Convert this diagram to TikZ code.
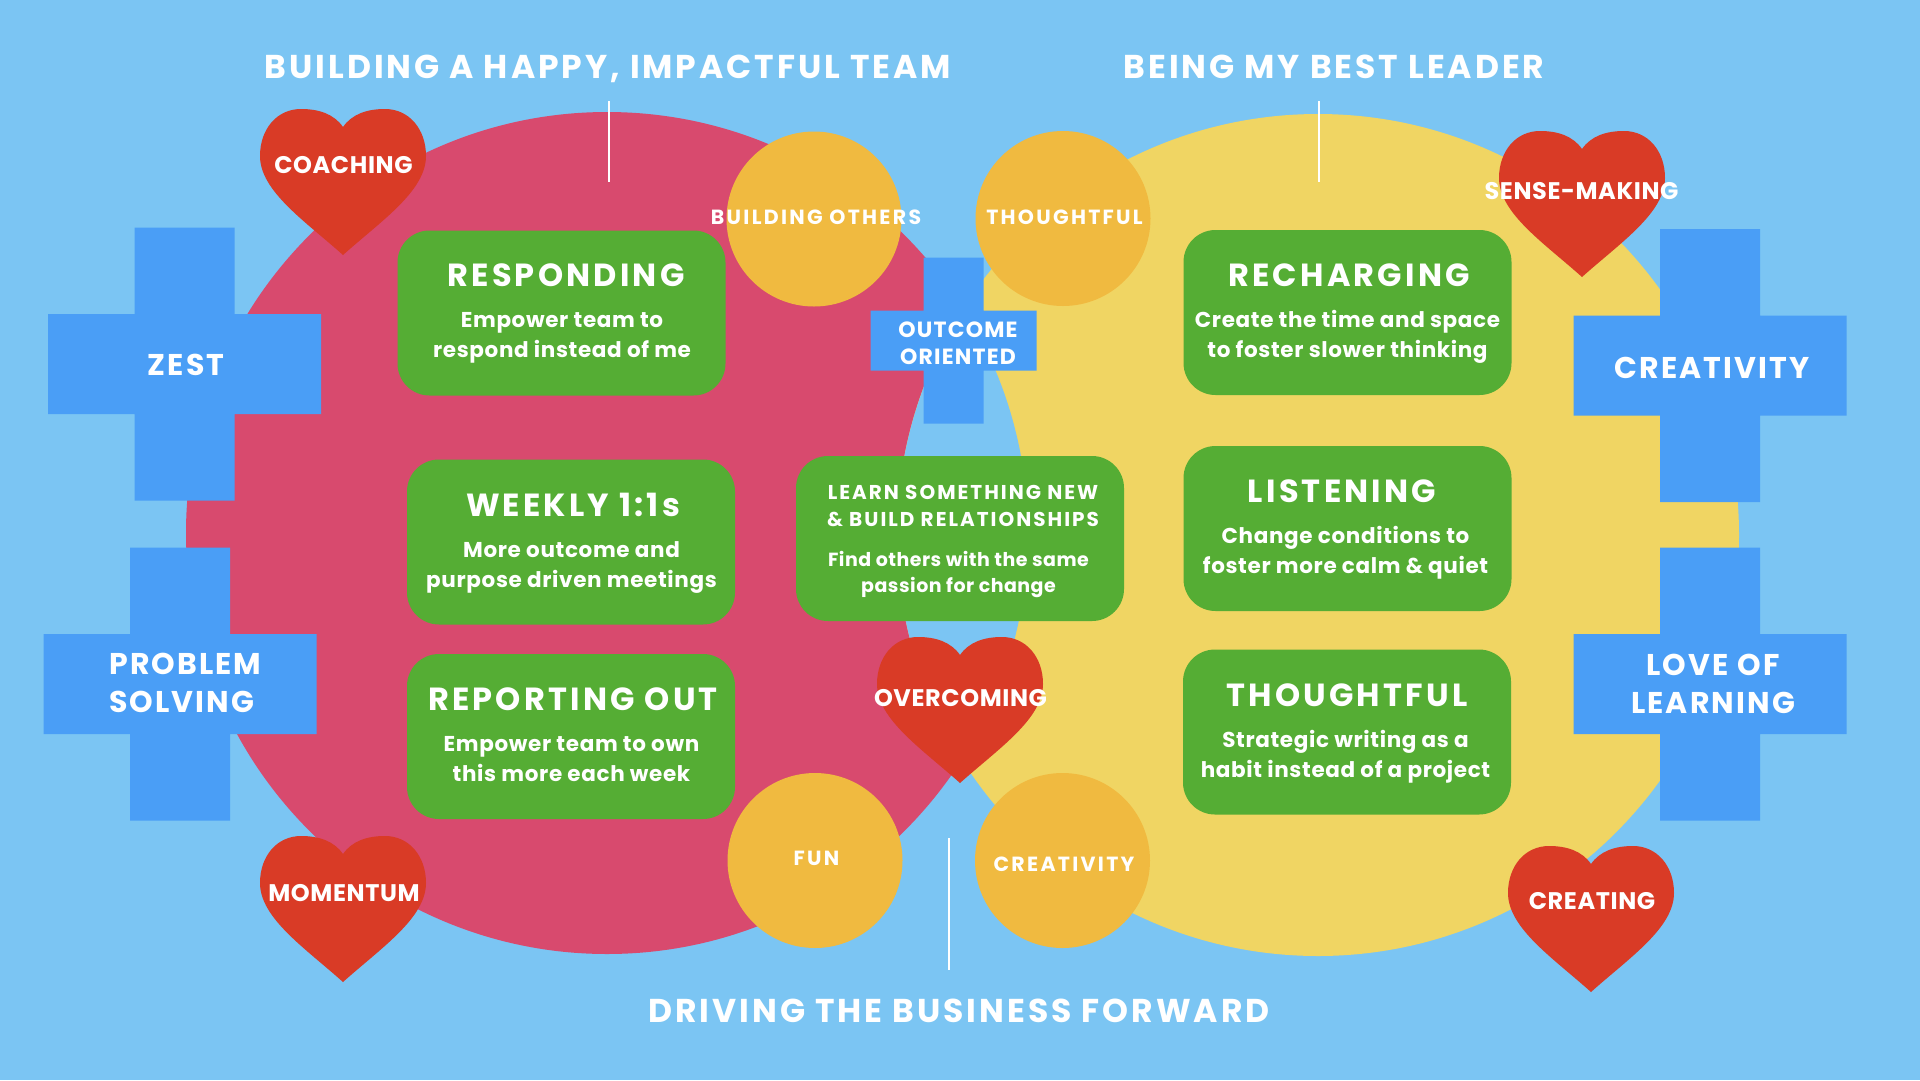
\documentclass[tikz,border=0pt]{standalone}
\usepackage{fontspec}
\setmainfont{Poppins}
\definecolor{bgblue}{RGB}{123,197,243}
\definecolor{pinkc}{RGB}{216,74,110}
\definecolor{yellowc}{RGB}{240,213,99}
\definecolor{orangec}{RGB}{240,186,64}
\definecolor{heartred}{RGB}{217,59,38}
\definecolor{boxgreen}{RGB}{85,173,52}
\definecolor{crossblue}{RGB}{74,158,246}
\newcommand\fhead{\fontsize{33}{36}\selectfont\bfseries\addfontfeatures{LetterSpace=9}}
\newcommand\ftitle{\fontsize{32}{36}\selectfont\bfseries\addfontfeatures{LetterSpace=10}}
\newcommand\fsub{\fontsize{21.5}{26}\selectfont\bfseries\addfontfeatures{LetterSpace=3}}
\newcommand\fcross{\fontsize{30}{34}\selectfont\bfseries\addfontfeatures{LetterSpace=7}}
\newcommand\fheart{\fontsize{24}{28}\selectfont\bfseries\addfontfeatures{LetterSpace=2.5}}
\newcommand\fcirc{\fontsize{20.5}{22}\selectfont\bfseries\addfontfeatures{LetterSpace=11.2}}
\newcommand\flearncap{\fontsize{20}{22}\selectfont\bfseries\addfontfeatures{LetterSpace=10}}
\newcommand\flearn{\fontsize{19}{22}\selectfont\bfseries\addfontfeatures{LetterSpace=2.6}}
\newcommand\fout{\fontsize{22}{26}\selectfont\bfseries\addfontfeatures{LetterSpace=5.5}}
\newcommand\plusshape[4]{\fill[crossblue] ({#1-#3},{#2-#4}) rectangle ({#1+#3},{#2+#4}) ({#1-#4},{#2-#3}) rectangle ({#1+#4},{#2+#3});}
\newcommand\heartshape[2]{\begin{scope}[shift={(#1,#2)}]
\fill[heartred] (0,18) .. controls (9,5) and (24,0) .. (42,0)
 .. controls (66,0) and (83,20) .. (83,47)
 .. controls (83,82) and (38,112) .. (0,146)
 .. controls (-38,112) and (-83,82) .. (-83,47)
 .. controls (-83,20) and (-66,0) .. (-42,0)
 .. controls (-24,0) and (-9,5) .. (0,18) -- cycle;
\end{scope}}
\begin{document}
\begin{tikzpicture}[x=1pt,y=-1pt,
  tx/.style={text=white,inner sep=0pt,anchor=base},
  gbox/.style={fill=boxgreen,rounded corners=32pt,minimum width=328pt,minimum height=165pt,inner sep=0pt},
  orb/.style={fill=orangec},
  wline/.style={draw=white,line width=2pt}]
\useasboundingbox (0,0) rectangle (1920,1080);
\fill[bgblue] (0,0) rectangle (1920,1080);
% big circles
\fill[pinkc] (607,533) circle[radius=421];
\fill[yellowc] (1318,535) circle[radius=421];
\begin{scope}
\clip (607,533) circle[radius=421];
\fill[bgblue] (1318,535) circle[radius=421];
\end{scope}
% lines
\coordinate (la1) at (609,101); \coordinate (la2) at (609,182);
\coordinate (lb1) at (1319,101); \coordinate (lb2) at (1319,182);
\coordinate (lc1) at (949,838); \coordinate (lc2) at (949,970);
\draw[wline] (la1) -- (la2);
\draw[wline] (lb1) -- (lb2);
\draw[wline] (lc1) -- (lc2);
% crosses
\plusshape{184.5}{364}{136.5}{50}
\plusshape{180}{684}{136.5}{50}
\plusshape{1710}{365.5}{136.5}{50}
\plusshape{1710}{684}{136.5}{50}
\plusshape{953.5}{340.5}{83}{30}
% orange circles
\fill[orb] (814,219) circle[radius=87.5];
\fill[orb] (1063,218.5) circle[radius=87.5];
\fill[orb] (815,860.5) circle[radius=87.5];
\fill[orb] (1062.5,860.5) circle[radius=87.5];
% hearts
\heartshape{343}{109}
\heartshape{343}{836}
\heartshape{1582}{131}
\heartshape{1591}{846}
\heartshape{960}{637}
% green boxes
\node[gbox] (resp) at (561.5,313) {};
\node[gbox] (week) at (571,542) {};
\node[gbox] (repo) at (571,736.5) {};
\node[gbox] (learn) at (960,538.5) {};
\node[gbox] (rech) at (1347.5,312.5) {};
\node[gbox] (listen) at (1347.5,528.5) {};
\node[gbox] (thought) at (1347,732) {};
% headers
\node[tx,font=\fhead] (h1) at (608,78) {BUILDING A HAPPY, IMPACTFUL TEAM};
\node[tx,font=\fhead] (h2) at (1334,78) {BEING MY BEST LEADER};
\node[tx,font=\fhead] (h3) at (959,1022) {DRIVING THE BUSINESS FORWARD};
% box texts
\node[tx,font=\ftitle] (t1) at (566,286) {RESPONDING};
\node[tx,font=\fsub] (s1a) at (562,327) {Empower team to};
\node[tx,font=\fsub] (s1b) at (562,357) {respond instead of me};
\node[tx,font=\ftitle] (t2) at (573,516) {WEEKLY 1:1s};
\node[tx,font=\fsub] (s2a) at (571.5,557) {More outcome and};
\node[tx,font=\fsub] (s2b) at (571.5,587) {purpose driven meetings};
\node[tx,font=\ftitle] (t3) at (573,710) {REPORTING OUT};
\node[tx,font=\fsub] (s3a) at (571.5,751) {Empower team to own};
\node[tx,font=\fsub] (s3b) at (571.5,781) {this more each week};
\node[tx,font=\ftitle] (t4) at (1349,286) {RECHARGING};
\node[tx,font=\fsub] (s4a) at (1347.5,327) {Create the time and space};
\node[tx,font=\fsub] (s4b) at (1347.5,357) {to foster slower thinking};
\node[tx,font=\ftitle] (t5) at (1342,502) {LISTENING};
\node[tx,font=\fsub] (s5a) at (1345.5,543) {Change conditions to};
\node[tx,font=\fsub] (s5b) at (1345.5,573) {foster more calm \& quiet};
\node[tx,font=\ftitle] (t6) at (1347,706) {THOUGHTFUL};
\node[tx,font=\fsub] (s6a) at (1345.5,747) {Strategic writing as a};
\node[tx,font=\fsub] (s6b) at (1345.5,777) {habit instead of a project};
\node[tx,font=\flearncap] (l1) at (963,499) {LEARN SOMETHING NEW};
\node[tx,font=\flearncap] (l2) at (963,526) {\& BUILD RELATIONSHIPS};
\node[tx,font=\flearn] (l3) at (958.5,566) {Find others with the same};
\node[tx,font=\flearn] (l4) at (958.5,592) {passion for change};
% cross texts
\node[tx,font=\fcross] (c1) at (186,375) {ZEST};
\node[tx,font=\fcross,anchor=base west] (c2a) at (109,674) {PROBLEM};
\node[tx,font=\fcross,anchor=base west] (c2b) at (109,712) {SOLVING};
\node[tx,font=\fcross] (c3) at (1712,378) {CREATIVITY};
\node[tx,font=\fcross] (c4a) at (1713,675) {LOVE OF};
\node[tx,font=\fcross] (c4b) at (1713,713) {LEARNING};
\node[tx,font=\fout] (c5a) at (958,337) {OUTCOME};
\node[tx,font=\fout] (c5b) at (958,364) {ORIENTED};
% heart texts
\node[tx,font=\fheart] (hc) at (343.5,173) {COACHING};
\node[tx,font=\fheart] (hm) at (344,901) {MOMENTUM};
\node[tx,font=\fheart] (hs) at (1581.5,199) {SENSE-MAKING};
\node[tx,font=\fheart] (ho) at (960.5,706) {OVERCOMING};
\node[tx,font=\fheart] (hcr) at (1592,909) {CREATING};
% circle texts
\node[tx,font=\fcirc] (o1) at (816,224.5) {BUILDING OTHERS};
\node[tx,font=\fcirc] (o2) at (1064.5,224) {THOUGHTFUL};
\node[tx,font=\fcirc] (o3) at (816.5,865) {FUN};
\node[tx,font=\fcirc] (o4) at (1064,871) {CREATIVITY};
\end{tikzpicture}
\end{document}
